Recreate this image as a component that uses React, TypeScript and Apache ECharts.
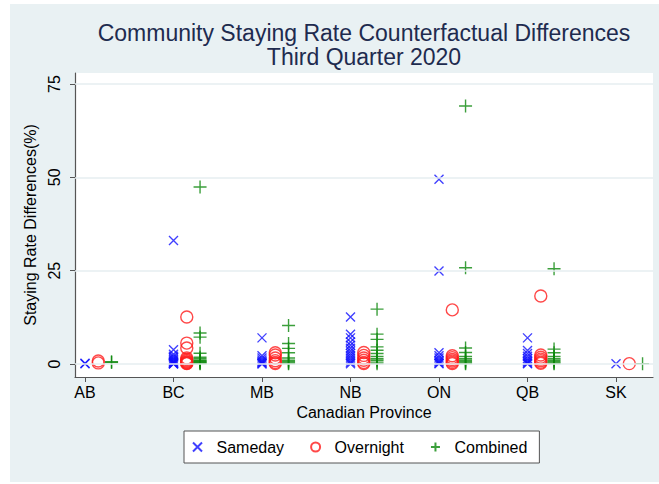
import React, { useEffect, useRef } from 'react';
import * as echarts from 'echarts';

const provinces = ['AB', 'BC', 'MB', 'NB', 'ON', 'QB', 'SK'];
const yTicks = [0, 25, 50, 75];

// values per province, in the order of `provinces`
const sameday: number[][] = [
  [0.1, 0.2],
  [33.1, 3.8, 2.6, 2.1, 1.7, 1.3, 1.0, 0.7, 0.5, 0.3, 0.2, 0.1, 0.0],
  [7.0, 2.2, 1.6, 1.1, 0.7, 0.4, 0.2, 0.0],
  [12.6, 8.0, 7.0, 5.9, 5.0, 4.2, 3.5, 2.8, 2.2, 1.6, 1.0, 0.5, 0.1],
  [49.5, 24.9, 3.0, 2.2, 1.6, 1.0, 0.6, 0.3, 0.1],
  [7.0, 3.6, 2.8, 2.1, 1.5, 1.0, 0.6, 0.3, 0.1],
  [0.1],
];
const overnight: number[][] = [
  [0.3, 0.8],
  [12.6, 5.6, 4.3, 1.6, 1.2, 0.9, 0.6, 0.4, 0.2, 0.1],
  [3.0, 2.4, 1.6, 0.9, 0.4, 0.1],
  [3.1, 2.3, 1.6, 1.0, 0.4, 0.1],
  [14.5, 2.2, 1.7, 1.2, 0.8, 0.4, 0.1],
  [18.2, 2.4, 1.8, 1.3, 0.9, 0.5, 0.2],
  [0.1],
];
const combined: number[][] = [
  [0.4, 0.6],
  [47.4, 8.3, 7.2, 2.9, 1.8, 1.4, 1.0, 0.8, 0.6, 0.4, 0.2, 0.1],
  [10.3, 5.5, 4.2, 3.0, 1.6, 1.0, 0.6, 0.3, 0.1],
  [14.7, 8.0, 6.6, 4.6, 3.7, 2.8, 2.0, 1.4, 1.0, 0.5, 0.1],
  [69.1, 25.8, 4.3, 3.1, 2.0, 1.4, 1.0, 0.6, 0.3, 0.1],
  [25.5, 4.0, 3.0, 2.0, 1.4, 1.0, 0.6, 0.3, 0.1],
  [0.1],
];
const titleLines = ['Community Staying Rate Counterfactual Differences', 'Third Quarter 2020'];

const FONT = '"Liberation Sans", Arial, Helvetica, sans-serif';
const BLUE = '#1010ff';
const RED = '#ff1a1a';
const GREEN = '#0a870a';

function toPoints(groups: number[][], offset: number): number[][] {
  const out: number[][] = [];
  groups.forEach((vals, i) => {
    vals.forEach((v) => out.push([i + 1 + offset, v]));
  });
  return out;
}

export default function App() {
  const ref = useRef<HTMLDivElement>(null);
  useEffect(() => {
    if (!ref.current) return;
    const chart = echarts.init(ref.current, undefined, { renderer: 'svg' });
    const xSym = 'path://M0,0L10,10M10,0L0,10';
    const oSym = 'path://M10,5A5,5,0,1,1,0,5A5,5,0,1,1,10,5Z';
    const pSym = 'path://M0,6L12,6M6,0L6,12';
    chart.setOption({
      animation: false,
      graphic: titleLines.map((t, i) => ({
        type: 'text',
        x: 364,
        y: 32.5 + i * 24.5,
        style: {
          text: t,
          font: `23px ${FONT}`,
          fill: '#1e2b4f',
          align: 'center',
          verticalAlign: 'middle',
        },
      })),
      grid: {
        left: 75,
        top: 73,
        width: 578,
        height: 304,
        show: true,
        backgroundColor: '#ffffff',
        borderWidth: 0,
      },
      legend: {
        left: 184,
        top: 431,
        backgroundColor: '#ffffff',
        borderColor: '#555',
        borderWidth: 1,
        borderRadius: 0,
        padding: [8, 12, 8, 8],
        itemWidth: 28,
        itemHeight: 9,
        itemGap: 26,
        textStyle: { fontFamily: FONT, fontSize: 16, color: '#000' },
        data: ['Sameday', 'Overnight', 'Combined'],
      },
      xAxis: {
        type: 'value',
        min: 0.887,
        max: 7.418,
        axisLine: { show: true, onZero: false, lineStyle: { color: '#555', width: 1.2 } },
        axisTick: { show: true, length: 5, customValues: provinces.map((_, i) => i + 1), lineStyle: { color: '#555' } },
        axisLabel: {
          customValues: provinces.map((_, i) => i + 1),
          formatter: (v: number) => provinces[Math.round(v) - 1] ?? '',
          fontFamily: FONT,
          fontSize: 16,
          color: '#000',
          margin: 7,
        },
        splitLine: { show: false },
        name: 'Canadian Province',
        nameLocation: 'middle',
        nameGap: 25,
        nameTextStyle: { fontFamily: FONT, fontSize: 16, color: '#000' },
      },
      yAxis: {
        type: 'value',
        min: -3.48,
        max: 77.95,
        axisLine: { show: true, onZero: false, lineStyle: { color: '#555', width: 1.2 } },
        axisTick: { show: true, length: 5, customValues: yTicks, lineStyle: { color: '#555' } },
        axisLabel: {
          customValues: yTicks,
          rotate: 90,
          fontFamily: FONT,
          fontSize: 16,
          color: '#000',
          margin: 13,
        },
        splitLine: { show: false },
        name: 'Staying Rate Differences(%)',
        nameLocation: 'middle',
        nameRotate: 90,
        nameGap: 35,
        nameTextStyle: { fontFamily: FONT, fontSize: 16, color: '#000' },
      },
      series: [
        {
          name: 'gridlines',
          type: 'scatter',
          data: [],
          silent: true,
          z: 1,
          markLine: {
            silent: true,
            symbol: 'none',
            label: { show: false },
            lineStyle: { color: '#e6eef0', type: 'solid', width: 1.5 },
            data: yTicks.map((v) => ({ yAxis: v })),
          },
        },
        {
          name: 'Sameday',
          type: 'scatter',
          symbol: xSym,
          symbolSize: 9,
          symbolKeepAspect: true,
          silent: true,
          clip: false,
          z: 3,
          itemStyle: { color: 'rgba(0,0,0,0)', borderColor: BLUE, borderWidth: 1.4 },
          data: toPoints(sameday, 0),
        },
        {
          name: 'Overnight',
          type: 'scatter',
          symbol: oSym,
          symbolSize: 12,
          symbolKeepAspect: true,
          silent: true,
          clip: false,
          z: 3,
          itemStyle: { color: 'rgba(0,0,0,0)', borderColor: RED, borderWidth: 1.4 },
          data: toPoints(overnight, 0.15),
        },
        {
          name: 'Combined',
          type: 'scatter',
          symbol: pSym,
          symbolSize: 13,
          symbolKeepAspect: true,
          silent: true,
          clip: false,
          z: 3,
          itemStyle: { color: 'rgba(0,0,0,0)', borderColor: GREEN, borderWidth: 1.4 },
          data: toPoints(combined, 0.3),
        },
      ],
    });
    return () => chart.dispose();
  }, []);
  return (
    <div style={{ position: 'absolute', left: 0, top: 0, width: 659, height: 484, background: '#fff' }}>
      <div style={{ position: 'absolute', left: 10, top: 4, width: 649, height: 478, background: '#e9f1f3' }} />
      <div ref={ref} style={{ position: 'absolute', left: 0, top: 0, width: 659, height: 484 }} />
    </div>
  );
}
